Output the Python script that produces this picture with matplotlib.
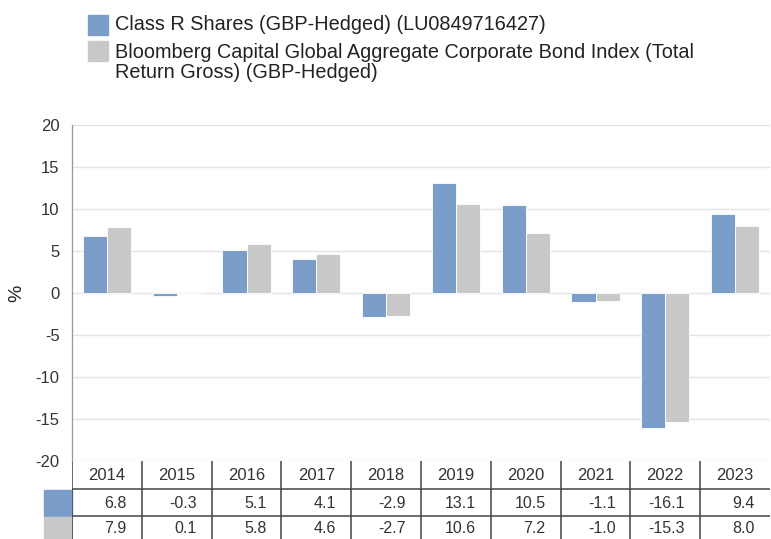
import numpy as np
import matplotlib.pyplot as plt
from matplotlib.patches import Rectangle

plt.rcParams['font.family'] = ['Liberation Sans', 'DejaVu Sans']

years = ['2014', '2015', '2016', '2017', '2018', '2019', '2020', '2021', '2022', '2023']
fund = [6.8, -0.3, 5.1, 4.1, -2.9, 13.1, 10.5, -1.1, -16.1, 9.4]
index = [7.9, 0.1, 5.8, 4.6, -2.7, 10.6, 7.2, -1.0, -15.3, 8.0]
fund_label = 'Class R Shares (GBP-Hedged) (LU0849716427)'
index_label = ('Bloomberg Capital Global Aggregate Corporate Bond Index (Total\n'
               'Return Gross) (GBP-Hedged)')
yticks = [20, 15, 10, 5, 0, -5, -10, -15, -20]

blue = '#7a9dca'
grey = '#c8c8c8'
dark = '#444444'

W, H = 771, 539
fig = plt.figure(figsize=(W / 100, H / 100), dpi=100)

# main chart area (pixel positions from reference)
left, right, top, bottom = 72, 770, 125, 461
ax = fig.add_axes([left / W, 1 - bottom / H, (right - left) / W, (bottom - top) / H])

x = np.arange(len(years))
bw = 0.345
ax.bar(x - bw / 2, fund, bw, color=blue, edgecolor='white', linewidth=0.6, zorder=3)
ax.bar(x + bw / 2, index, bw, color=grey, edgecolor='white', linewidth=0.6, zorder=3)

ax.set_xlim(-0.5, len(years) - 0.5)
ax.set_ylim(-20, 20)
ax.set_yticks(yticks)
ax.set_yticklabels([str(v) for v in yticks], fontsize=12, color='#333333')
ax.tick_params(axis='y', length=0, pad=9)
ax.set_xticks([])
ax.grid(axis='y', color='#e4e4e4', linewidth=1, zorder=0)
for s in ['top', 'right', 'bottom']:
    ax.spines[s].set_visible(False)
ax.spines['left'].set_color('#999999')
ax.spines['left'].set_linewidth(0.9)
ax.set_ylabel('%', fontsize=14, color='#222222', labelpad=7)

# data table below the chart (y in pixels from top)
tab = fig.add_axes([left / W, 0, (right - left) / W, 1], sharex=ax)
tab.set_ylim(H, 0)
tab.axis('off')
tab.set_zorder(-1)
row_edges = [461, 489, 516, 545]
col_w = (right - left) / len(years)

tab.axhline(row_edges[1], color=dark, linewidth=1.1)
tab.axhline(row_edges[2], color=dark, linewidth=1.1)
for i in range(len(years)):
    tab.plot([i - 0.5, i - 0.5], [row_edges[0], H], color=dark, linewidth=1.1)

pad = 15 / col_w
for i, yr in enumerate(years):
    tab.text(i, (row_edges[0] + row_edges[1]) / 2 + 1, yr, ha='center', va='center',
             fontsize=12, color='#333333')
    tab.text(i + 0.5 - pad, (row_edges[1] + row_edges[2]) / 2 + 1, f'{fund[i]:.1f}',
             ha='right', va='center', fontsize=11.5, color='#333333')
    tab.text(i + 0.5 - pad, (row_edges[2] + row_edges[3]) / 2 - 2, f'{index[i]:.1f}',
             ha='right', va='center', fontsize=11.5, color='#333333')

sw = 28 / col_w
tab.add_patch(Rectangle((-0.5 - sw, row_edges[1] + 1), sw, row_edges[2] - row_edges[1] - 1.5,
                        color=blue, clip_on=False))
tab.add_patch(Rectangle((-0.5 - sw, row_edges[2] + 1), sw, row_edges[3] - row_edges[2],
                        color=grey, clip_on=False))

# legend at top
fig.patches.append(Rectangle((88 / W, 1 - 35 / H), 20 / W, 20 / H, color=blue,
                             transform=fig.transFigure))
fig.patches.append(Rectangle((88 / W, 1 - 61 / H), 20 / W, 20 / H, color=grey,
                             transform=fig.transFigure))
fig.text(115 / W, 1 - 25 / H, fund_label, fontsize=14.3, va='center', color='#222222')
fig.text(115 / W, 1 - 43 / H, index_label, fontsize=14.3, va='top', color='#222222',
         linespacing=1.04)

fig.savefig('out.png', dpi=100)
